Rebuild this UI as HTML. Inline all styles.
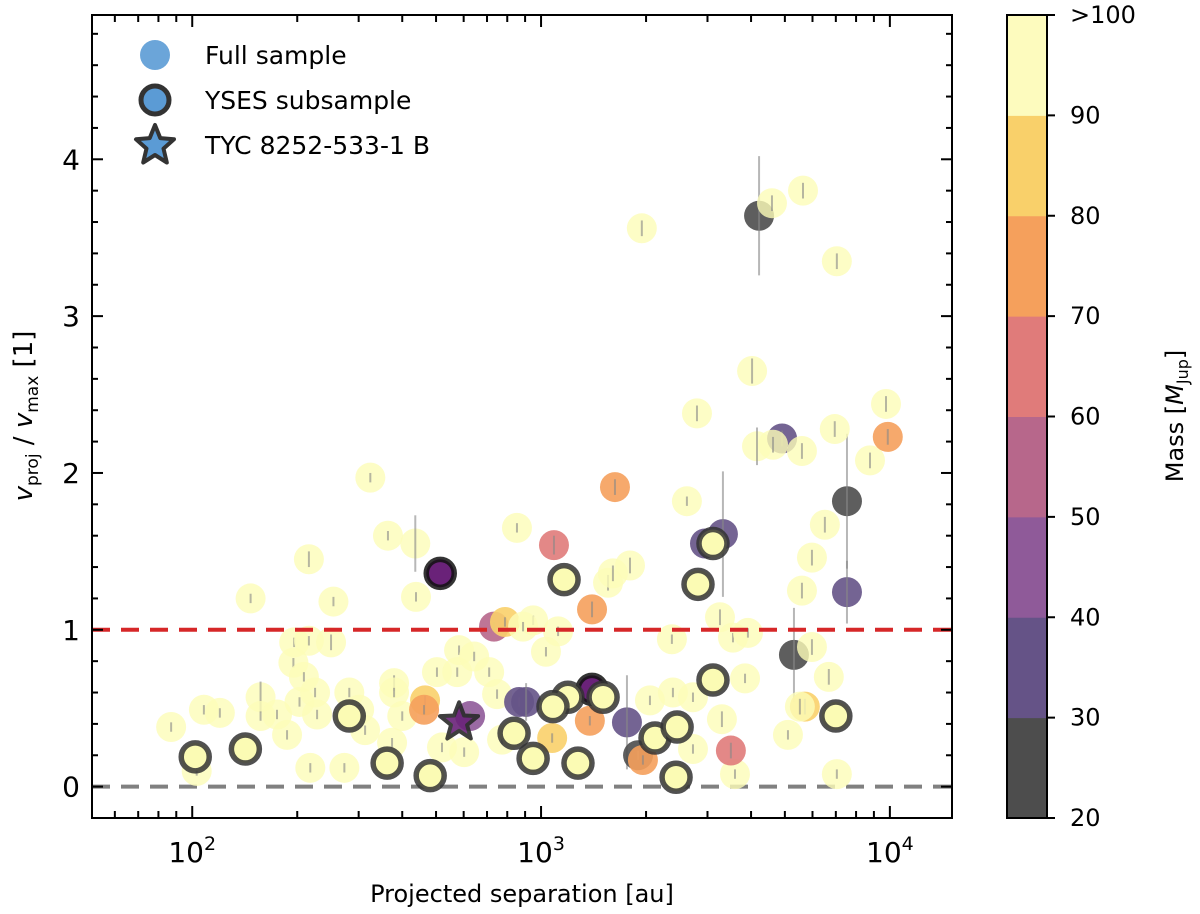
<!DOCTYPE html>
<html><head><meta charset="utf-8"><style>
body{margin:0;background:#fff;}
svg{display:block;font-family:"DejaVu Sans","Liberation Sans",sans-serif;}
</style></head><body>
<svg id="chart" width="1200" height="914" viewBox="0 0 1200 914">
<g id="marks"></g>
<g id="axes"></g>
<g id="legend">
  <circle cx="155" cy="55" r="15" fill="#5b9bd5" opacity="0.9"/>
  <text x="205" y="64" font-size="25">Full sample</text>
  <circle cx="155" cy="100" r="14" fill="#5b9bd5" stroke="#333" stroke-width="5"/>
  <text x="205" y="109" font-size="25">YSES subsample</text>
  <polygon points="155,125 160.3,138.1 174,139.3 163.5,148.6 166.8,162.5 155,155 143.2,162.5 146.5,148.6 136,139.3 149.7,138.1" fill="#5b9bd5" stroke="#333" stroke-width="4" stroke-linejoin="round"/>
  <text x="205" y="154" font-size="25">TYC 8252-533-1 B</text>
</g>
<g id="cbar"></g>
<text x="522" y="902" font-size="24" text-anchor="middle">Projected separation [au]</text>
<text transform="translate(32,416) rotate(-90)" font-size="26" text-anchor="middle"><tspan font-style="italic">v</tspan><tspan font-size="17" dy="6">proj</tspan><tspan dy="-6"> / </tspan><tspan font-style="italic">v</tspan><tspan font-size="17" dy="6">max</tspan><tspan dy="-6"> [1]</tspan></text>
<text transform="translate(1183,416) rotate(-90)" font-size="24" text-anchor="middle">Mass [<tspan font-style="italic">M</tspan><tspan font-size="16" dy="5">Jup</tspan><tspan dy="-5">]</tspan></text>
</svg>
<script>
// ---- data ----
const fullSep = [87,108,120,157,157,187,175,216,254,364,436,438,324,196,216,250,195,209,203,225,228,282,301,313,379,379,400,374,503,582,575,643,710,748,773,520,602,465,462,853,218,273,103,626,733,788,865,1629,2619,1089,1556,1607,1799,1400,949,1119,1033,888,906,1763,1380,1076,1897,1959,2951,3322,3258,3550,3918,2372,2052,2388,2726,3300,2726,3597,3844,3501,5309,5705,5103,6683,5979,5597,5979,6511,7047,5521,7534,7534,4217,4592,5636,1945,7047,4027,2799,4160,4909,5597,4624,6950,9747,8770,9863,147];
const fullRatio = [0.38,0.49,0.47,0.57,0.45,0.33,0.46,1.45,1.18,1.60,1.55,1.21,1.97,0.92,0.93,0.92,0.79,0.70,0.54,0.60,0.46,0.60,0.49,0.36,0.66,0.60,0.45,0.28,0.73,0.87,0.73,0.83,0.73,0.59,0.30,0.25,0.22,0.55,0.49,1.65,0.12,0.12,0.10,0.45,1.02,1.05,0.54,1.91,1.82,1.54,1.30,1.36,1.41,1.13,1.06,0.99,0.86,1.02,0.54,0.41,0.42,0.31,0.20,0.17,1.55,1.61,1.08,0.95,0.98,0.94,0.55,0.60,0.57,0.43,0.24,0.08,0.69,0.23,0.84,0.51,0.33,0.70,0.89,1.25,1.46,1.67,0.08,0.51,1.82,1.24,3.64,3.72,3.80,3.56,3.35,2.65,2.38,2.17,2.22,2.14,2.18,2.28,2.44,2.08,2.23,1.20];
const fullMass = [110,110,110,110,110,110,110,110,110,110,110,110,110,110,110,110,110,110,110,110,110,110,110,110,110,110,110,110,110,110,110,110,110,110,110,110,110,85,75,110,110,110,110,45,55,85,35,75,110,65,110,110,110,75,110,110,110,110,35,35,75,85,25,75,35,35,110,110,110,110,110,110,110,110,110,110,110,65,25,85,110,110,110,110,110,110,110,110,25,35,25,110,110,110,110,110,110,110,35,110,110,110,110,110,75,110];
const fullErr = [0.03,0.03,0.03,0.10,0.03,0.03,0.03,0.05,0.03,0.03,0.18,0.03,0.03,0.03,0.03,0.05,0.03,0.03,0.03,0.03,0.03,0.03,0.03,0.03,0.05,0.03,0.03,0.03,0.03,0.03,0.03,0.03,0.03,0.03,0.03,0.03,0.03,0.03,0.03,0.03,0.03,0.03,0.03,0.03,0.03,0.03,0.03,0.05,0.03,0.06,0.05,0.05,0.05,0.05,0.03,0.03,0.03,0.03,0.12,0.30,0.03,0.03,0.03,0.03,0.06,0.40,0.05,0.03,0.03,0.03,0.03,0.03,0.03,0.05,0.03,0.03,0.03,0.05,0.30,0.05,0.03,0.05,0.05,0.05,0.05,0.05,0.03,0.05,0.43,0.20,0.38,0.05,0.05,0.05,0.05,0.08,0.05,0.12,0.05,0.05,0.05,0.05,0.05,0.05,0.05,0.03];
const ysesSep = [102,142,282,362,481,837,514,1164,1400,1194,1506,1082,949,1276,2122,2455,2438,3111,2818,3111,7000];
const ysesRatio = [0.19,0.24,0.45,0.15,0.07,0.34,1.36,1.32,0.62,0.57,0.57,0.51,0.18,0.15,0.31,0.38,0.06,0.68,1.29,1.55,0.45];
const ysesMass = [110,110,110,110,110,110,45,110,45,110,110,110,110,110,110,110,110,110,110,110,110];
const tycSep = [582], tycRatio = [0.41], tycMass = [45];
const xTicks = [100,1000,10000];
const yTicks = [0,1,2,3,4];
const cbTicks = ["20","30","40","50","60","70","80","90",">100"];
const cbColors = ["#4d4d4d","#655387","#8f5a99","#b7678b","#e07b7a","#f5a05c","#f9d06a","#fdfbbe"];

// ---- scales ----
const L=92,R=952,T=15,B=818;
const xmin=Math.log10(51.6), xmax=Math.log10(15070), ymin=-0.2, ymax=4.92;
const X=v=>L+(Math.log10(v)-xmin)/(xmax-xmin)*(R-L);
const Y=v=>B-(v-ymin)/(ymax-ymin)*(B-T);
function colorFor(m){ if(m>=90) return "#fcfcb8"; let i=Math.floor((m-20)/10); return cbColors[Math.max(0,Math.min(7,i))]; }
const NS="http://www.w3.org/2000/svg";
function mk(tag,attrs,parent){const e=document.createElementNS(NS,tag);for(const k in attrs)e.setAttribute(k,attrs[k]);parent.appendChild(e);return e;}
const marks=document.getElementById('marks'), axes=document.getElementById('axes'), cb=document.getElementById('cbar');

let ln=mk('line',{x1:L,x2:R,y1:Y(0),y2:Y(0),stroke:"#808080","stroke-width":4,"stroke-dasharray":"18,11"},marks);



fullSep.forEach((s,i)=>{
  const cx=X(s), cy=Y(fullRatio[i]);
  const c=mk('circle',{cx:cx,cy:cy,r:15,fill:colorFor(fullMass[i]),opacity:fullMass[i]>=90?0.8:0.9},marks);
  
  
  const e=mk('line',{x1:cx,x2:cx,y1:Y(fullRatio[i]+fullErr[i]),y2:Y(fullRatio[i]-fullErr[i]),stroke:"#888","stroke-width":2,opacity:0.6},marks);
  
  
});
let rl=mk('line',{x1:L,x2:R,y1:Y(1),y2:Y(1),stroke:"#d62728","stroke-width":4,"stroke-dasharray":"18,11"},marks);


ysesSep.forEach((s,i)=>{
  const dark=ysesMass[i]<90;
  const c=mk('circle',{cx:X(s),cy:Y(ysesRatio[i]),r:14,fill:dark?"#6a2279":"#fbfbb4",stroke:dark?"#111":"#333","stroke-width":5.5,"stroke-opacity":0.85},marks);
  
  
});
tycSep.forEach((s,i)=>{
  const cx=X(s), cy=Y(tycRatio[i]); let p=[];
  for(let k=0;k<10;k++){const r=k%2?8.5:20, a=-Math.PI/2+k*Math.PI/5; p.push((cx+r*Math.cos(a)).toFixed(1)+","+(cy+r*Math.sin(a)).toFixed(1));}
  const st=mk('polygon',{points:p.join(" "),fill:"#6a2279",stroke:"#2a2a2a","stroke-width":4,"stroke-linejoin":"round",opacity:0.9},marks);
  
  
});

const fr=mk('rect',{x:L,y:T,width:R-L,height:B-T,fill:"none",stroke:"#000","stroke-width":2},axes);


for(let v=-0.2;v<=4.81;v+=0.2){
  const vv=Math.round(v*10)/10, y=Y(vv), major=Math.abs(vv-Math.round(vv))<1e-6;
  const len=major?11:6;
  mk('line',{x1:L,x2:L+len,y1:y,y2:y,stroke:"#000","stroke-width":2},axes);
  mk('line',{x1:R,x2:R-len,y1:y,y2:y,stroke:"#000","stroke-width":2},axes);
}
yTicks.forEach(v=>{
  const t=mk('text',{x:80,y:Y(v)+10,"font-size":28,"text-anchor":"end"},axes);
  t.textContent=v;
  
  
});
for(let d=10;d<=10000;d*=10){
  for(let k=1;k<10;k++){
    const v=d*k; if(v<51.6||v>15070) continue;
    const x=X(v), len=k===1?12:7;
    mk('line',{x1:x,x2:x,y1:B,y2:B-len,stroke:"#000","stroke-width":2},axes);
    mk('line',{x1:x,x2:x,y1:T,y2:T+len,stroke:"#000","stroke-width":2},axes);
  }
}
xTicks.forEach(v=>{
  const t=mk('text',{x:X(v),y:862,"font-size":28,"text-anchor":"middle"},axes);
  
  
  const a=document.createElementNS(NS,'tspan'); a.textContent="10"; t.appendChild(a);
  const b=document.createElementNS(NS,'tspan'); b.setAttribute('font-size','19'); b.setAttribute('dy','-12'); b.textContent=Math.round(Math.log10(v)); t.appendChild(b);
});

const cL=1007,cR=1047,cT=15,cB=818, bh=(cB-cT)/cbColors.length;
cbColors.forEach((c,i)=>{
  const r=mk('rect',{x:cL,y:cB-(i+1)*bh,width:cR-cL,height:bh+0.5,fill:c},cb);
  
  
});
mk('rect',{x:cL,y:cT,width:cR-cL,height:cB-cT,fill:"none",stroke:"#000","stroke-width":2},cb);
cbTicks.forEach((lab,i)=>{
  const y=cB-i*bh;
  mk('line',{x1:cR,x2:cR+8,y1:y,y2:y,stroke:"#000","stroke-width":2},cb);
  const t=mk('text',{x:1070,y:y+8,"font-size":24},cb);
  t.textContent=lab;
  
  
});
</script>
</body></html>
